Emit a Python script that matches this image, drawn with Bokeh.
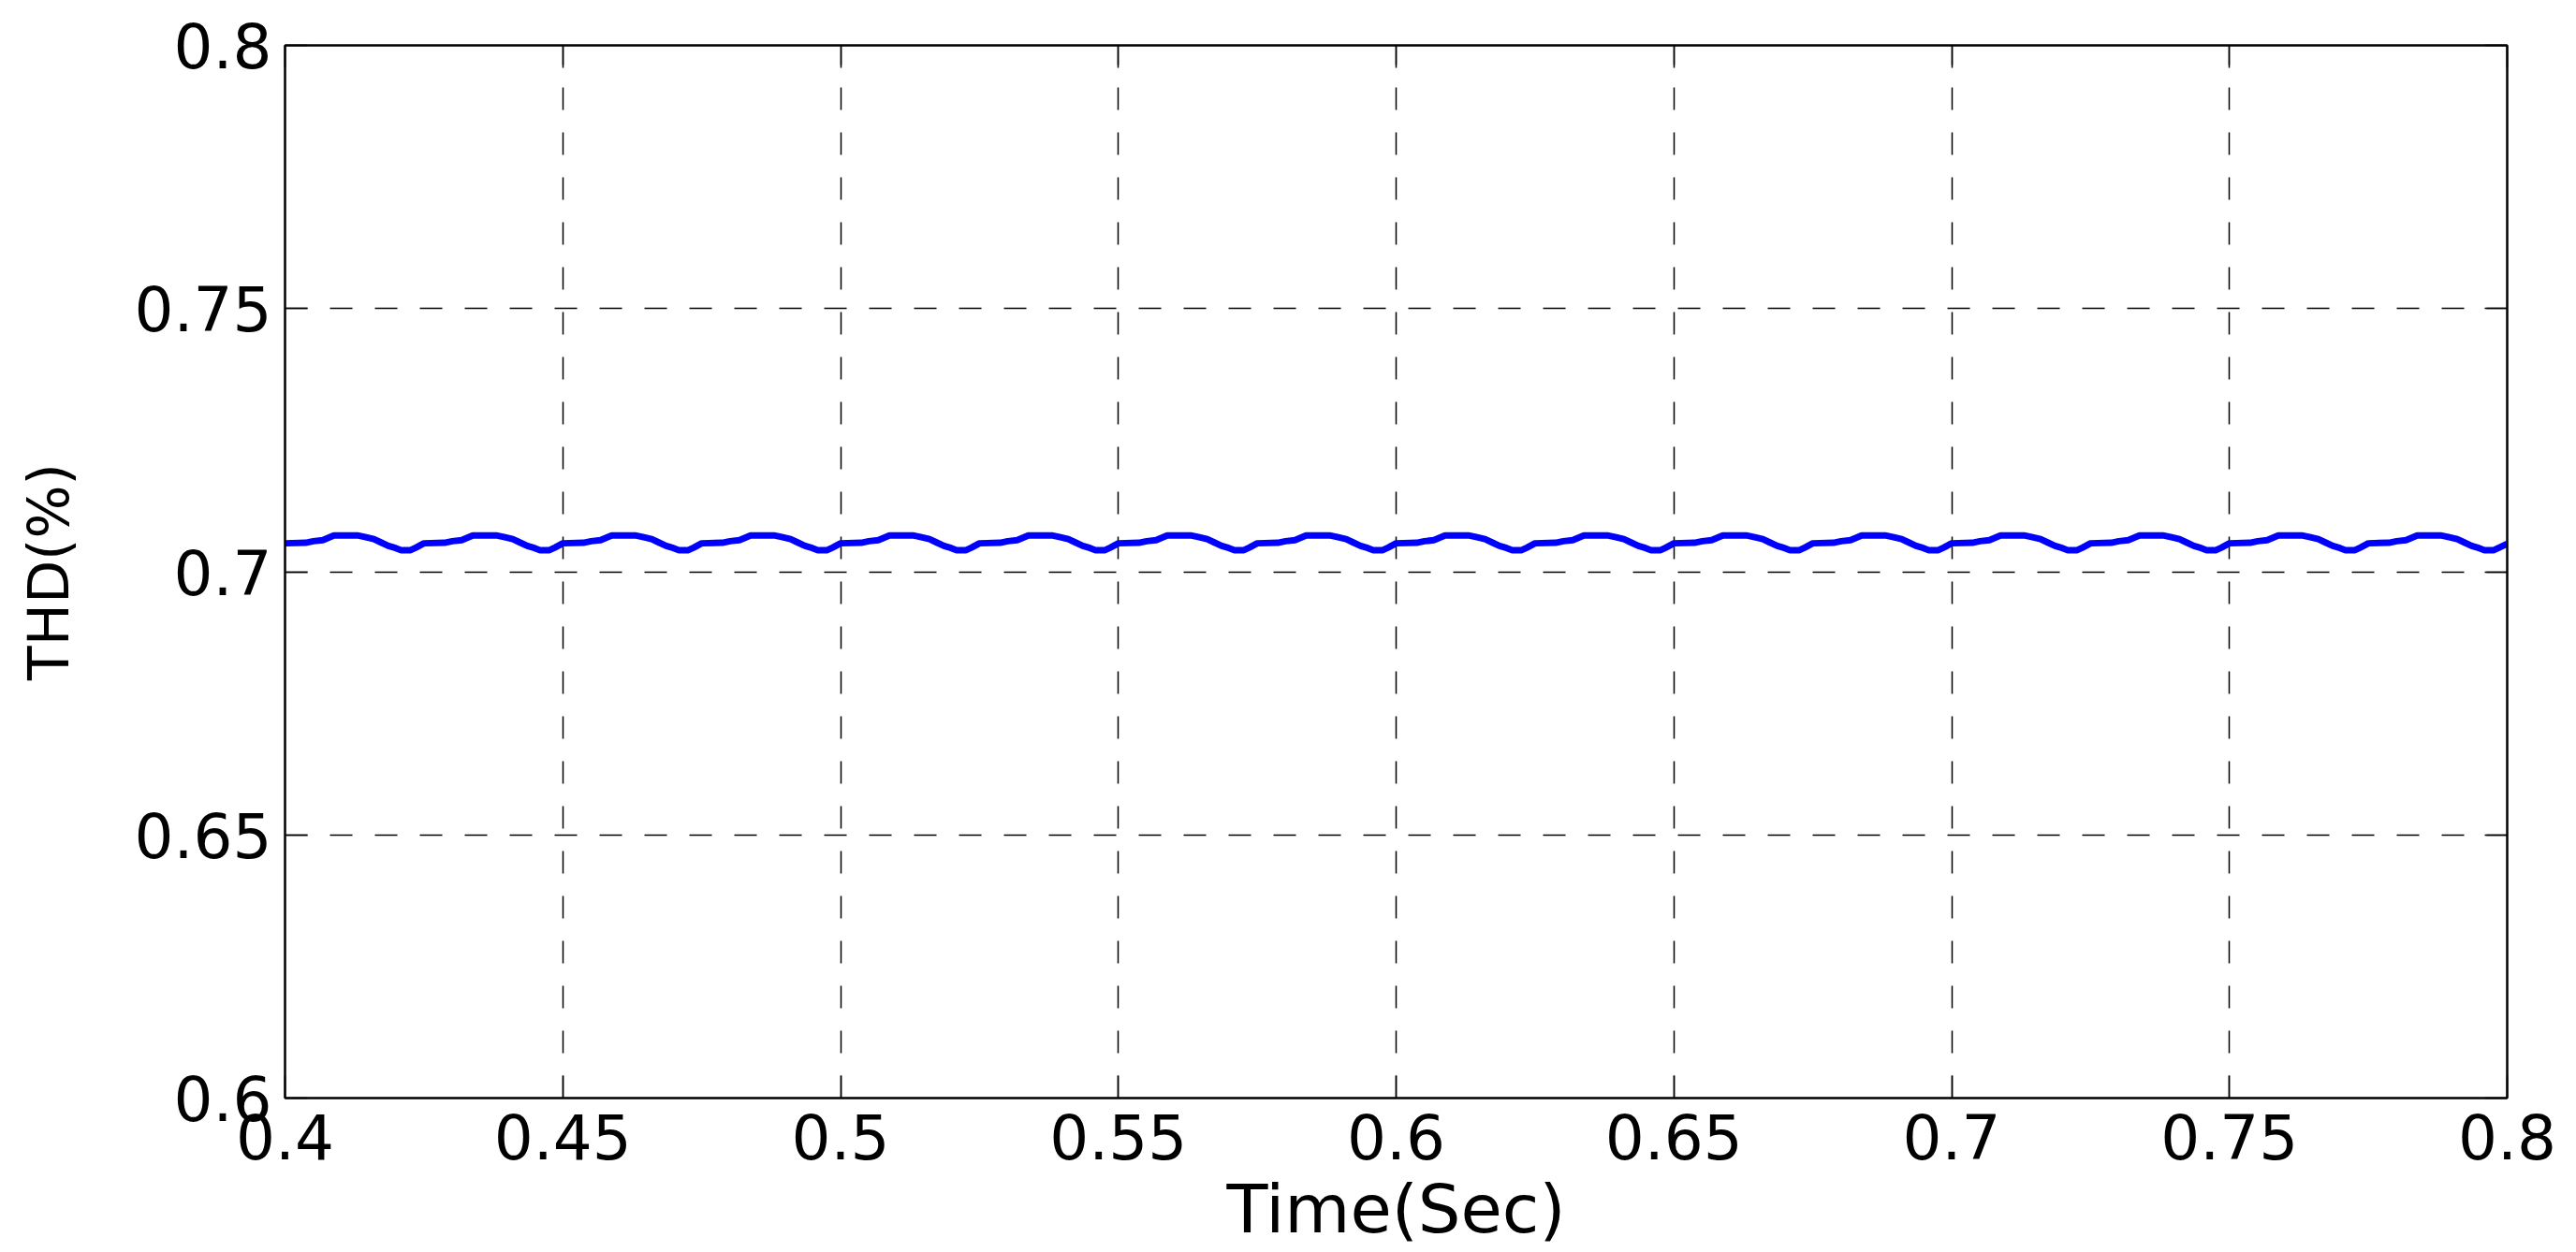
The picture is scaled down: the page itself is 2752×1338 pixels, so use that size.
from bokeh.plotting import figure
from bokeh.models import FixedTicker, LinearAxis, Range1d
from bokeh.embed import file_html
from bokeh.resources import INLINE

# ---- data ----
time_s = [
    0.4000, 0.4037, 0.4051, 0.4068, 0.4079, 0.4088, 0.4130, 0.4144, 0.4160, 0.4172, 0.4186, 0.4199, 0.4209, 0.4226, 0.4236,
    0.4250, 0.4287, 0.4301, 0.4318, 0.4329, 0.4338, 0.4380, 0.4394, 0.4410, 0.4422, 0.4436, 0.4449, 0.4459, 0.4476, 0.4486,
    0.4500, 0.4537, 0.4551, 0.4568, 0.4579, 0.4588, 0.4630, 0.4644, 0.4660, 0.4672, 0.4686, 0.4699, 0.4709, 0.4726, 0.4736,
    0.4750, 0.4787, 0.4801, 0.4818, 0.4829, 0.4838, 0.4880, 0.4894, 0.4910, 0.4922, 0.4936, 0.4949, 0.4959, 0.4976, 0.4986,
    0.5000, 0.5037, 0.5051, 0.5068, 0.5079, 0.5088, 0.5130, 0.5144, 0.5160, 0.5172, 0.5186, 0.5199, 0.5209, 0.5226, 0.5236,
    0.5250, 0.5287, 0.5301, 0.5318, 0.5329, 0.5338, 0.5380, 0.5394, 0.5410, 0.5422, 0.5436, 0.5449, 0.5459, 0.5476, 0.5486,
    0.5500, 0.5537, 0.5551, 0.5568, 0.5579, 0.5588, 0.5630, 0.5644, 0.5660, 0.5672, 0.5686, 0.5699, 0.5709, 0.5726, 0.5736,
    0.5750, 0.5787, 0.5801, 0.5818, 0.5829, 0.5838, 0.5880, 0.5894, 0.5910, 0.5922, 0.5936, 0.5949, 0.5959, 0.5976, 0.5986,
    0.6000, 0.6037, 0.6051, 0.6068, 0.6079, 0.6088, 0.6130, 0.6144, 0.6160, 0.6172, 0.6186, 0.6199, 0.6209, 0.6226, 0.6236,
    0.6250, 0.6287, 0.6301, 0.6318, 0.6329, 0.6338, 0.6380, 0.6394, 0.6410, 0.6422, 0.6436, 0.6449, 0.6459, 0.6476, 0.6486,
    0.6500, 0.6537, 0.6551, 0.6568, 0.6579, 0.6588, 0.6630, 0.6644, 0.6660, 0.6672, 0.6686, 0.6699, 0.6709, 0.6726, 0.6736,
    0.6750, 0.6787, 0.6801, 0.6818, 0.6829, 0.6838, 0.6880, 0.6894, 0.6910, 0.6922, 0.6936, 0.6949, 0.6959, 0.6976, 0.6986,
    0.7000, 0.7037, 0.7051, 0.7068, 0.7079, 0.7088, 0.7130, 0.7144, 0.7160, 0.7172, 0.7186, 0.7199, 0.7209, 0.7226, 0.7236,
    0.7250, 0.7287, 0.7301, 0.7318, 0.7329, 0.7338, 0.7380, 0.7394, 0.7410, 0.7422, 0.7436, 0.7449, 0.7459, 0.7476, 0.7486,
    0.7500, 0.7537, 0.7551, 0.7568, 0.7579, 0.7588, 0.7630, 0.7644, 0.7660, 0.7672, 0.7686, 0.7699, 0.7709, 0.7726, 0.7736,
    0.7750, 0.7787, 0.7801, 0.7818, 0.7829, 0.7838, 0.7880, 0.7894, 0.7910, 0.7922, 0.7936, 0.7949, 0.7959, 0.7976, 0.7986,
    0.8000,
]
thd_pct = [
    0.7054, 0.7055, 0.7058, 0.7060, 0.7065, 0.7069, 0.7069, 0.7066, 0.7062, 0.7056, 0.7049, 0.7045, 0.7041, 0.7041, 0.7046,
    0.7054, 0.7055, 0.7058, 0.7060, 0.7065, 0.7069, 0.7069, 0.7066, 0.7062, 0.7056, 0.7049, 0.7045, 0.7041, 0.7041, 0.7046,
    0.7054, 0.7055, 0.7058, 0.7060, 0.7065, 0.7069, 0.7069, 0.7066, 0.7062, 0.7056, 0.7049, 0.7045, 0.7041, 0.7041, 0.7046,
    0.7054, 0.7055, 0.7058, 0.7060, 0.7065, 0.7069, 0.7069, 0.7066, 0.7062, 0.7056, 0.7049, 0.7045, 0.7041, 0.7041, 0.7046,
    0.7054, 0.7055, 0.7058, 0.7060, 0.7065, 0.7069, 0.7069, 0.7066, 0.7062, 0.7056, 0.7049, 0.7045, 0.7041, 0.7041, 0.7046,
    0.7054, 0.7055, 0.7058, 0.7060, 0.7065, 0.7069, 0.7069, 0.7066, 0.7062, 0.7056, 0.7049, 0.7045, 0.7041, 0.7041, 0.7046,
    0.7054, 0.7055, 0.7058, 0.7060, 0.7065, 0.7069, 0.7069, 0.7066, 0.7062, 0.7056, 0.7049, 0.7045, 0.7041, 0.7041, 0.7046,
    0.7054, 0.7055, 0.7058, 0.7060, 0.7065, 0.7069, 0.7069, 0.7066, 0.7062, 0.7056, 0.7049, 0.7045, 0.7041, 0.7041, 0.7046,
    0.7054, 0.7055, 0.7058, 0.7060, 0.7065, 0.7069, 0.7069, 0.7066, 0.7062, 0.7056, 0.7049, 0.7045, 0.7041, 0.7041, 0.7046,
    0.7054, 0.7055, 0.7058, 0.7060, 0.7065, 0.7069, 0.7069, 0.7066, 0.7062, 0.7056, 0.7049, 0.7045, 0.7041, 0.7041, 0.7046,
    0.7054, 0.7055, 0.7058, 0.7060, 0.7065, 0.7069, 0.7069, 0.7066, 0.7062, 0.7056, 0.7049, 0.7045, 0.7041, 0.7041, 0.7046,
    0.7054, 0.7055, 0.7058, 0.7060, 0.7065, 0.7069, 0.7069, 0.7066, 0.7062, 0.7056, 0.7049, 0.7045, 0.7041, 0.7041, 0.7046,
    0.7054, 0.7055, 0.7058, 0.7060, 0.7065, 0.7069, 0.7069, 0.7066, 0.7062, 0.7056, 0.7049, 0.7045, 0.7041, 0.7041, 0.7046,
    0.7054, 0.7055, 0.7058, 0.7060, 0.7065, 0.7069, 0.7069, 0.7066, 0.7062, 0.7056, 0.7049, 0.7045, 0.7041, 0.7041, 0.7046,
    0.7054, 0.7055, 0.7058, 0.7060, 0.7065, 0.7069, 0.7069, 0.7066, 0.7062, 0.7056, 0.7049, 0.7045, 0.7041, 0.7041, 0.7046,
    0.7054, 0.7055, 0.7058, 0.7060, 0.7065, 0.7069, 0.7069, 0.7066, 0.7062, 0.7056, 0.7049, 0.7045, 0.7041, 0.7041, 0.7046,
    0.7053,
]

x_ticks = [0.4, 0.45, 0.5, 0.55, 0.6, 0.65, 0.7, 0.75, 0.8]
x_tick_labels = ["0.4", "0.45", "0.5", "0.55", "0.6", "0.65", "0.7", "0.75", "0.8"]
y_ticks = [0.6, 0.65, 0.7, 0.75, 0.8]
y_tick_labels = ["0.6", "0.65", "0.7", "0.75", "0.8"]

x_label = "Time(Sec)"
y_label = "THD(%)"

FONT = "DejaVu Sans"

p = figure(
    width=2744, height=1336,
    x_range=Range1d(0.4, 0.8), y_range=Range1d(0.6, 0.8),
    output_backend="svg", toolbar_location=None,
    min_border_left=304, min_border_right=66,
    min_border_top=48, min_border_bottom=162,
    background_fill_color="white", border_fill_color="white",
)

p.line(time_s, thd_pct, line_color="#0000FF", line_width=7)

# frame
p.outline_line_color = "black"
p.outline_line_width = 2
p.outline_line_alpha = 1.0

# grid
for g in (p.xgrid, p.ygrid):
    g.grid_line_color = "black"
    g.grid_line_width = 1.5
    g.grid_line_dash = "24 24"
    g.grid_line_alpha = 1.0

# bottom / left axes
xa = p.xaxis[0]
xa.ticker = FixedTicker(ticks=x_ticks)
xa.major_label_overrides = dict(zip(x_ticks, x_tick_labels))
xa.axis_label = x_label
ya = p.yaxis[0]
ya.ticker = FixedTicker(ticks=y_ticks)
ya.major_label_overrides = dict(zip(y_ticks, y_tick_labels))
ya.axis_label = y_label

for ax in (xa, ya):
    ax.axis_line_color = "black"
    ax.axis_line_width = 2
    ax.major_tick_in = 24
    ax.major_tick_out = 0
    ax.major_tick_line_color = "black"
    ax.major_tick_line_width = 1.5
    ax.minor_tick_line_color = None
    ax.major_label_text_font = FONT
    ax.major_label_text_color = "black"
    ax.axis_label_text_font = FONT
    ax.axis_label_text_font_style = "normal"
    ax.axis_label_text_color = "black"

xa.major_label_text_font_size = "66px"
xa.major_label_standoff = 16
xa.axis_label_text_font_size = "72px"
xa.axis_label_standoff = 8

ya.major_label_text_font_size = "66px"
ya.major_label_standoff = 14
ya.axis_label_text_font_size = "60px"
ya.axis_label_standoff = 54

# inward ticks on top and right (box style)
top_ax = LinearAxis(ticker=FixedTicker(ticks=x_ticks))
right_ax = LinearAxis(ticker=FixedTicker(ticks=y_ticks))
for ax in (top_ax, right_ax):
    ax.major_tick_in = 24
    ax.major_tick_out = 0
    ax.major_tick_line_color = "black"
    ax.major_tick_line_width = 1.5
    ax.minor_tick_line_color = None
    ax.axis_line_color = "black"
    ax.axis_line_width = 2
    ax.major_label_text_font_size = "0px"
    ax.major_label_text_color = None
    ax.major_label_standoff = 0
p.add_layout(top_ax, "above")
p.add_layout(right_ax, "right")

open("out.html", "w").write(file_html(p, INLINE))
